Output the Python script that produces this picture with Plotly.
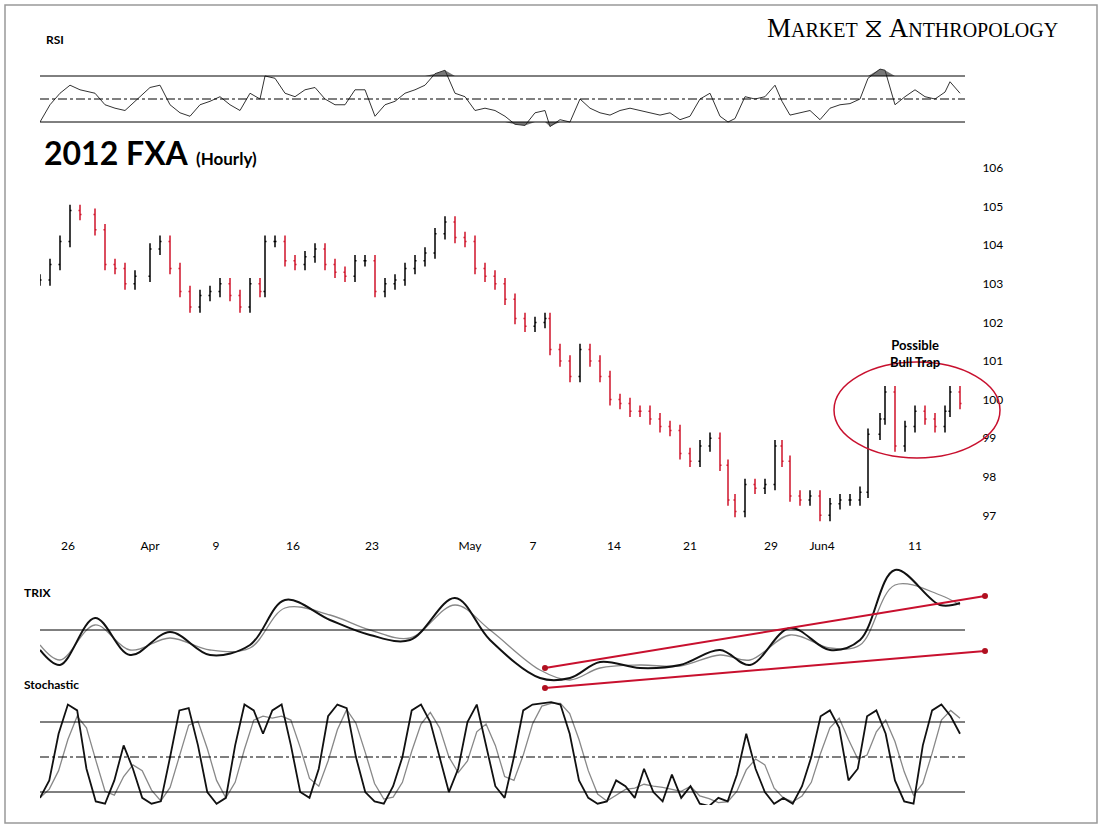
import plotly.graph_objects as go
import numpy as np

W, H = 1103, 828
# ---- data ----
price_t = [40,50,60,70,80,95,105,115,125,135,150,160,170,180,190,200,210,220,230,240,250,260,265,275,285,
           295,305,315,325,335,345,355,365,375,385,395,405,415,425,435,445,455,465,475,485,495,505,515,525,535,
           545,550,560,570,580,590,600,610,620,630,640,650,660,670,680,690,700,710,720,728,735,745,755,765,775,
           782,790,800,810,820,830,840,850,860,868,880,885,895,905,915,925,935,945,950,960]
price_close = [103.1,103.5,104.1,104.9,104.8,104.4,103.5,103.4,103.0,103.2,103.9,104.1,103.4,102.8,102.4,
               102.7,102.8,103.0,102.7,102.4,103.0,102.8,104.1,104.1,103.6,103.5,103.7,103.9,103.5,103.3,
               103.2,103.6,103.6,102.8,103.0,103.1,103.4,103.6,103.8,104.3,104.6,104.2,104.1,103.4,103.2,
               103.0,102.6,102.1,101.9,102.0,102.1,101.3,101.0,100.6,101.3,101.0,100.6,100.0,99.9,99.7,
               99.7,99.5,99.3,99.2,98.6,98.4,98.8,99.0,98.3,97.4,97.1,97.8,97.7,97.8,98.8,
               98.4,97.5,97.4,97.5,97.0,97.3,97.4,97.4,97.6,99.1,99.5,100.2,98.8,99.3,99.7,
               99.5,99.3,99.7,100.2,99.9]
rsi = [30,45,55,62,58,55,45,42,40,48,60,62,45,38,35,45,48,52,45,40,55,50,70,68,55,
       52,58,60,50,45,45,58,58,35,45,48,55,58,62,72,75,55,52,40,42,40,35,28,27,38,
       40,26,32,30,50,42,38,36,40,42,40,38,36,38,32,35,50,55,35,30,33,52,50,52,62,
       48,36,38,40,32,42,45,46,50,68,76,75,45,52,58,52,50,56,65,55]
trix_t = [40,60,95,130,170,210,250,285,330,370,410,455,490,540,570,600,640,680,720,750,790,830,860,895,940,960]
trix = [-2,-3.5,1.2,-2.5,-0.2,-2.5,-1.5,3,1,-0.5,-1,3.2,-1,-4.8,-4.8,-3.2,-3.8,-3.5,-2,-3.5,0.2,-2,-1,6,2.5,2.7]
trix_sig = [-1.5,-3,0.5,-2,-0.8,-2,-1.8,2.2,1.5,0,-0.8,2.5,0,-4,-5,-3.8,-3.5,-3.6,-2.5,-3,-0.5,-1.8,-1.5,4.5,3.5,2.5]
stoch = [15,30,70,95,90,40,12,10,30,60,40,15,10,12,50,90,92,60,20,10,
         15,60,95,90,70,90,95,60,20,15,40,85,95,92,50,20,12,10,25,50,
         90,95,80,50,20,40,80,95,60,25,15,50,90,95,96,97,95,70,30,15,
         10,12,30,25,15,40,20,12,35,15,25,10,8,15,12,35,70,40,20,10,
         15,10,25,50,85,90,75,30,40,85,90,70,30,12,10,60,90,95,85,70]
stoch_t = list(np.linspace(40, 960, len(stoch)))
date_ticks = [68,150,216,293,372,470,533,614,690,771,822,915]
date_labels = ["26","Apr","9","16","23","May","7","14","21","29","Jun4","11"]
price_ticks = [97,98,99,100,101,102,103,104,105,106]

# ---- derived ----
opens = [price_close[0]] + price_close[:-1]
highs = [max(o, c) + 0.15 for o, c in zip(opens, price_close)]
lows = [min(o, c) - 0.15 for o, c in zip(opens, price_close)]
stoch_d = [np.mean(stoch[max(0, i-2):i+1]) for i in range(len(stoch))]

def dom(top, bot):
    return [1 - bot/H, 1 - top/H]

fig = go.Figure()
fig.add_trace(go.Ohlc(x=price_t, open=opens, high=highs, low=lows, close=price_close,
                      increasing_line_color="black", decreasing_line_color="#d0152b",
                      line_width=1.5, tickwidth=0.3, yaxis="y2", showlegend=False))
# RSI
fig.add_trace(go.Scatter(x=price_t, y=[70]*len(rsi), mode="lines", line=dict(width=0), yaxis="y", showlegend=False, hoverinfo="skip"))
fig.add_trace(go.Scatter(x=price_t, y=[max(v, 70) for v in rsi], mode="lines", line=dict(width=0), fill="tonexty",
                         fillcolor="#777", yaxis="y", showlegend=False, hoverinfo="skip"))
fig.add_trace(go.Scatter(x=price_t, y=[30]*len(rsi), mode="lines", line=dict(width=0), yaxis="y", showlegend=False, hoverinfo="skip"))
fig.add_trace(go.Scatter(x=price_t, y=[min(v, 30) for v in rsi], mode="lines", line=dict(width=0), fill="tonexty",
                         fillcolor="#777", yaxis="y", showlegend=False, hoverinfo="skip"))
fig.add_trace(go.Scatter(x=price_t, y=rsi, mode="lines", line=dict(color="#333", width=1), yaxis="y", showlegend=False))
# TRIX
fig.add_trace(go.Scatter(x=trix_t, y=trix_sig, mode="lines", line=dict(color="#888", width=1.3, shape="spline"), yaxis="y3", showlegend=False))
fig.add_trace(go.Scatter(x=trix_t, y=trix, mode="lines", line=dict(color="#111", width=2, shape="spline"), yaxis="y3", showlegend=False))
# Stoch
fig.add_trace(go.Scatter(x=stoch_t, y=stoch_d, mode="lines", line=dict(color="#888", width=1.3), yaxis="y4", showlegend=False))
fig.add_trace(go.Scatter(x=stoch_t, y=stoch, mode="lines", line=dict(color="#111", width=1.8), yaxis="y4", showlegend=False))

xd = [40/W, 965/W]
shapes = []
def hline(py, dash="solid"):
    shapes.append(dict(type="line", xref="paper", yref="paper", x0=xd[0], x1=xd[1], y0=1-py/H, y1=1-py/H,
                       line=dict(color="black", width=1, dash=dash)))
for py, d in [(76,"solid"),(99,"dashdot"),(122,"solid"),(630,"solid"),(722,"solid"),(757,"dashdot"),(792,"solid")]:
    hline(py, d)
for (x0,y0,x1,y1) in [(545,668,985,596),(545,688,985,651)]:
    shapes.append(dict(type="line", xref="paper", yref="paper", x0=x0/W, y0=1-y0/H, x1=x1/W, y1=1-y1/H,
                       line=dict(color="#c8102e", width=2)))
    for (px,py) in [(x0,y0),(x1,y1)]:
        shapes.append(dict(type="circle", xref="paper", yref="paper", x0=(px-3)/W, x1=(px+3)/W, y0=1-(py+3)/H, y1=1-(py-3)/H,
                           fillcolor="#b01020", line=dict(width=0)))
shapes.append(dict(type="circle", xref="paper", yref="paper", x0=834/W, x1=1000/W, y0=1-458/H, y1=1-362/H,
                   line=dict(color="#c8102e", width=1.5)))
shapes.append(dict(type="rect", xref="paper", yref="paper", x0=5/W, x1=1097/W, y0=5/H, y1=1-5/H,
                   line=dict(color="#999", width=1.5)))

def A(px, py, text, size, xanchor="left", family="Lato"):
    return dict(xref="paper", yref="paper", x=px/W, y=1-py/H, text=text, showarrow=False,
                font=dict(size=size, family=family, color="black"), xanchor=xanchor, yanchor="middle")

ann = [
    A(42, 152, "<b>2012 FXA</b> <span style='font-size:17px'><b>(Hourly)</b></span>", 32),
    A(44, 40, "<b>RSI</b>", 12),
    A(22, 592, "<b>TRIX</b>", 12),
    A(22, 684, "<b>Stochastic</b>", 12),
    A(915, 353, "<b>Possible<br>Bull Trap</b>", 13, "center"),
    A(912, 28, "M<span style='font-size:20px'>ARKET</span> ⧖ A<span style='font-size:20px'>NTHROPOLOGY</span>", 27, "center", "Liberation Serif"),
]

fig.update_layout(
    width=W, height=H, margin=dict(l=0, r=0, t=0, b=0), paper_bgcolor="white", plot_bgcolor="rgba(0,0,0,0)",
    xaxis=dict(domain=xd, range=[40, 965], anchor="free", position=1-537/H, tickvals=date_ticks, ticktext=date_labels,
               showgrid=False, zeroline=False, showline=False, ticks="", rangeslider=dict(visible=False),
               tickfont=dict(size=12, family="Lato", color="black")),
    yaxis=dict(domain=dom(60, 135), range=[18.7, 83.9], visible=False),
    yaxis2=dict(domain=dom(160, 530), range=[96.62, 106.21], side="right", anchor="x", tickvals=price_ticks,
                showgrid=False, zeroline=False, ticks="outside", ticklen=14, tickcolor="rgba(0,0,0,0)",
                tickfont=dict(size=12, family="Lato", color="black")),
    yaxis3=dict(domain=dom(565, 695), range=[-6.5, 6.5], visible=False),
    yaxis4=dict(domain=dom(700, 805), range=[8.9, 98.9], visible=False),
    shapes=shapes, annotations=ann,
)
fig.write_html("out.html", post_script="document.body.style.margin='0';", config={"displayModeBar": False})
